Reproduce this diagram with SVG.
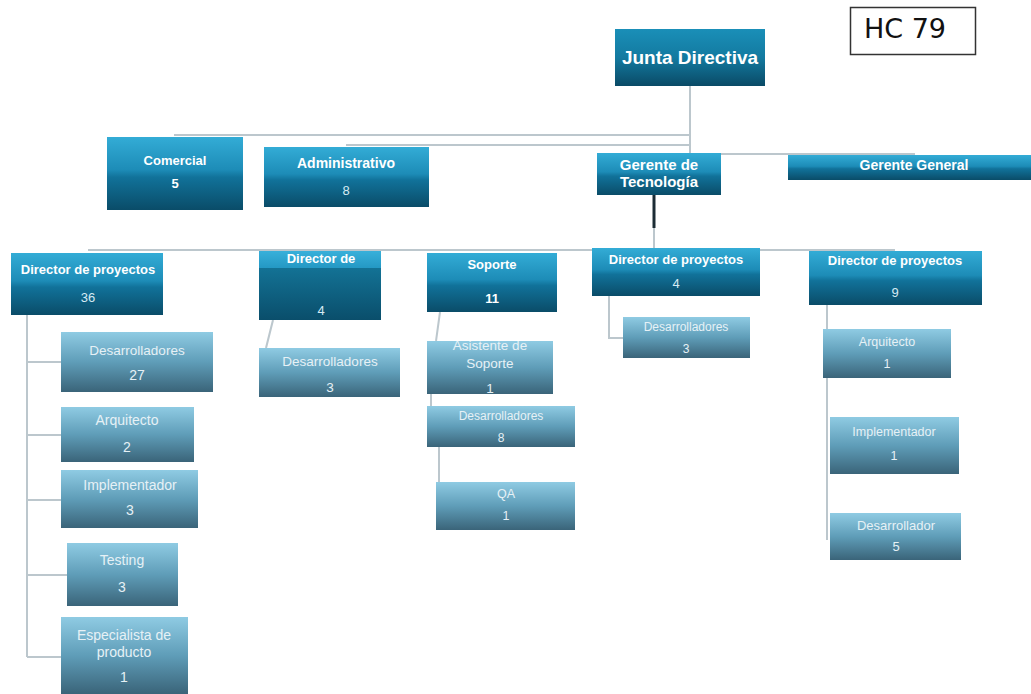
<svg xmlns="http://www.w3.org/2000/svg" width="1031" height="694" viewBox="0 0 1031 694">
<defs>
<linearGradient id="gTop" x1="0" y1="0" x2="0" y2="1">
<stop offset="0" stop-color="#33acd6"/>
<stop offset="0.45" stop-color="#1d8cb7"/>
<stop offset="0.55" stop-color="#11729a"/>
<stop offset="1" stop-color="#0a4c68"/>
</linearGradient>
<linearGradient id="gJunta" x1="0" y1="0" x2="0" y2="1">
<stop offset="0" stop-color="#1a8fb8"/>
<stop offset="0.5" stop-color="#137aa0"/>
<stop offset="1" stop-color="#0a4a66"/>
</linearGradient>
<linearGradient id="gBand" x1="0" y1="0" x2="0" y2="1">
<stop offset="0" stop-color="#38b0da"/>
<stop offset="1" stop-color="#2498c4"/>
</linearGradient>
<linearGradient id="gDark" x1="0" y1="0" x2="0" y2="1">
<stop offset="0" stop-color="#167ea3"/>
<stop offset="1" stop-color="#0a4e6b"/>
</linearGradient>
<linearGradient id="gChild" x1="0" y1="0" x2="0" y2="1">
<stop offset="0" stop-color="#8fcbe3"/>
<stop offset="0.5" stop-color="#5f9db8"/>
<stop offset="1" stop-color="#3a6479"/>
</linearGradient>
</defs>
<style>
.top{fill:url(#gTop);}
.child{fill:url(#gChild);}
.tb{font-family:"Liberation Sans",Arial,sans-serif;font-weight:bold;fill:#ffffff;text-anchor:middle;}
.tn{font-family:"Liberation Sans",Arial,sans-serif;fill:#d6ebf4;text-anchor:middle;font-size:13px;}
.tc{font-family:"Liberation Sans",Arial,sans-serif;fill:#e6f1f6;text-anchor:middle;}
.conn{stroke:#bcc7cd;stroke-width:2;fill:none;}
</style>
<rect x="0" y="0" width="1031" height="694" fill="#ffffff"/>

<g id="connectors">
<path class="conn" d="M690 86 V154"/>
<path class="conn" d="M174 135 H690"/>
<path class="conn" d="M346 145 H690"/>
<path class="conn" d="M654 154 H915"/>
<path d="M654 195 V228" stroke="#1c2c35" stroke-width="3" fill="none"/>
<path class="conn" d="M654 228 V249"/>
<path class="conn" d="M88 250 H895"/>
<path class="conn" d="M27 315 V657 M27 362 H61 M27 435 H61 M27 500 H61 M27 575 H67 M27 657 H61"/>
<path class="conn" d="M273 320 L266 348"/>
<path class="conn" d="M440 312 L436 341 M431 394 V406 M439 447 V482"/>
<path class="conn" d="M609 296 V338 H623"/>
<path class="conn" d="M827 305 V540"/>
</g>

<g id="hc79">
<rect x="850.5" y="7.5" width="125" height="47" fill="#ffffff" stroke="#333333" stroke-width="1.5"/>
<text x="905" y="38" font-family="DejaVu Sans,sans-serif" font-size="27" fill="#111111" text-anchor="middle">HC 79</text>
</g>

<g id="junta">
<rect x="615" y="29" width="150" height="57" fill="url(#gJunta)"/>
<text class="tb" x="690" y="64" font-size="19">Junta Directiva</text>
</g>

<g id="comercial">
<rect class="top" x="107" y="137" width="136" height="73"/>
<text class="tb" x="175" y="165" font-size="13">Comercial</text>
<text class="tb" x="175" y="188" font-size="13">5</text>
</g>

<g id="administrativo">
<rect class="top" x="264" y="147" width="165" height="60"/>
<text class="tb" x="346" y="168" font-size="14">Administrativo</text>
<text class="tn" x="346" y="195" font-size="14">8</text>
</g>

<g id="gerente-tecnologia">
<rect class="top" x="597" y="153" width="124" height="42"/>
<text class="tb" x="659" y="170" font-size="15">Gerente de</text>
<text class="tb" x="659" y="187" font-size="15">Tecnología</text>
</g>

<g id="gerente-general">
<rect class="top" x="788" y="155" width="243" height="25"/>
<text class="tb" x="914" y="170" font-size="14">Gerente General</text>
</g>

<g id="director-36">
<rect class="top" x="11" y="253" width="152" height="62"/>
<text class="tb" x="88" y="274" font-size="13">Director de proyectos</text>
<text class="tn" x="88" y="302" font-size="14">36</text>
</g>

<g id="director-de-4">
<rect x="259" y="251" width="122" height="69" fill="url(#gDark)"/>
<rect x="259" y="251" width="122" height="17" fill="url(#gBand)"/>
<text class="tb" x="321" y="263" font-size="13">Director de</text>
<text class="tn" x="321" y="315">4</text>
</g>

<g id="soporte-11">
<rect class="top" x="427" y="253" width="130" height="59"/>
<text class="tb" x="492" y="269" font-size="13">Soporte</text>
<text class="tb" x="492" y="303" font-size="13">11</text>
</g>

<g id="director-proyectos-4">
<rect class="top" x="592" y="248" width="168" height="48"/>
<text class="tb" x="676" y="264" font-size="13">Director de proyectos</text>
<text class="tn" x="676" y="288">4</text>
</g>

<g id="director-proyectos-9">
<rect class="top" x="809" y="251" width="173" height="54"/>
<text class="tb" x="895" y="265" font-size="13">Director de proyectos</text>
<text class="tn" x="895" y="297">9</text>
</g>

<g id="desarrolladores-27">
<rect class="child" x="61" y="332" width="152" height="60"/>
<text class="tc" x="137" y="355" font-size="13.5">Desarrolladores</text>
<text class="tc" x="137" y="380" font-size="14">27</text>
</g>

<g id="arquitecto-2">
<rect class="child" x="61" y="407" width="133" height="55"/>
<text class="tc" x="127" y="425" font-size="14">Arquitecto</text>
<text class="tc" x="127" y="452" font-size="14">2</text>
</g>

<g id="implementador-3">
<rect class="child" x="61" y="470" width="137" height="58"/>
<text class="tc" x="130" y="490" font-size="14">Implementador</text>
<text class="tc" x="130" y="515" font-size="14">3</text>
</g>

<g id="testing-3">
<rect class="child" x="67" y="543" width="111" height="63"/>
<text class="tc" x="122" y="565" font-size="14">Testing</text>
<text class="tc" x="122" y="592" font-size="14">3</text>
</g>

<g id="especialista-1">
<rect class="child" x="61" y="617" width="127" height="77"/>
<text class="tc" x="124" y="640" font-size="14">Especialista de</text>
<text class="tc" x="124" y="657" font-size="14">producto</text>
<text class="tc" x="124" y="682" font-size="14">1</text>
</g>

<g id="desarrolladores-3a">
<rect class="child" x="259" y="348" width="141" height="49"/>
<text class="tc" x="330" y="366" font-size="13.5">Desarrolladores</text>
<text class="tc" x="330" y="392" font-size="13.5">3</text>
</g>

<g id="asistente-soporte-1">
<rect class="child" x="427" y="341" width="126" height="53"/>
<text class="tc" x="490" y="350" font-size="13.5">Asistente de</text>
<text class="tc" x="490" y="368" font-size="13.5">Soporte</text>
<text class="tc" x="490" y="393" font-size="13.5">1</text>
</g>

<g id="desarrolladores-8">
<rect class="child" x="427" y="406" width="148" height="41"/>
<text class="tc" x="501" y="420" font-size="12">Desarrolladores</text>
<text class="tc" x="501" y="442" font-size="12">8</text>
</g>

<g id="qa-1">
<rect class="child" x="436" y="482" width="139" height="48"/>
<text class="tc" x="506" y="498" font-size="12.5">QA</text>
<text class="tc" x="506" y="520" font-size="12.5">1</text>
</g>

<g id="desarrolladores-3b">
<rect class="child" x="623" y="317" width="127" height="41"/>
<text class="tc" x="686" y="331" font-size="12">Desarrolladores</text>
<text class="tc" x="686" y="353" font-size="12">3</text>
</g>

<g id="arquitecto-1">
<rect class="child" x="823" y="329" width="128" height="49"/>
<text class="tc" x="887" y="346" font-size="12.5">Arquitecto</text>
<text class="tc" x="887" y="368" font-size="12.5">1</text>
</g>

<g id="implementador-1">
<rect class="child" x="830" y="417" width="129" height="57"/>
<text class="tc" x="894" y="436" font-size="12.5">Implementador</text>
<text class="tc" x="894" y="460" font-size="12.5">1</text>
</g>

<g id="desarrollador-5">
<rect class="child" x="830" y="513" width="131" height="47"/>
<text class="tc" x="896" y="530" font-size="13">Desarrollador</text>
<text class="tc" x="896" y="551" font-size="13">5</text>
</g>
</svg>
